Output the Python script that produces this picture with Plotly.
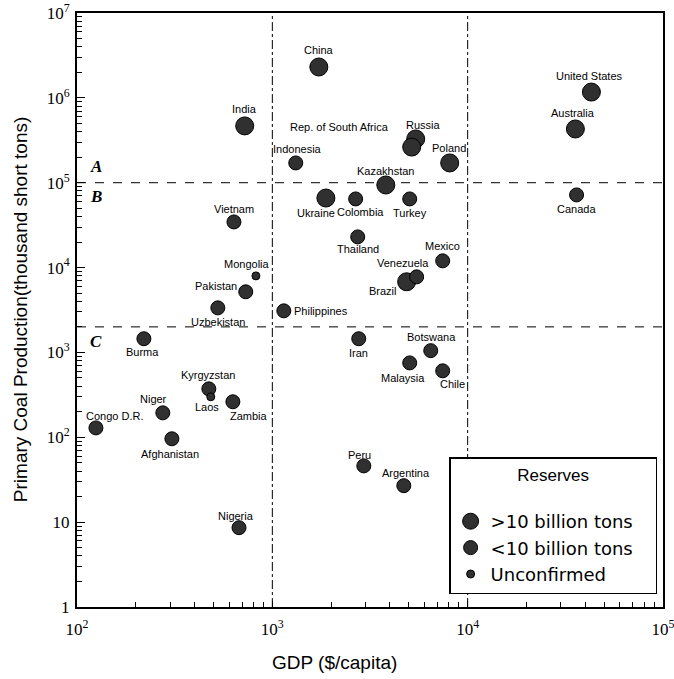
import math
import plotly.graph_objects as go

# ---- data ----
big_names = ["China", "India", "United States", "Australia", "Russia",
             "Rep. of South Africa", "Poland", "Kazakhstan", "Ukraine", "Brazil"]
big_gdp = [1730, 722, 43000, 35600, 5420, 5170, 8090, 3810, 1880, 4870]
big_prod = [2.31e6, 4.67e5, 1.17e6, 4.3e5, 3.28e5, 2.63e5, 1.71e5, 9.4e4, 6.6e4, 6.8e3]

mid_names = ["Indonesia", "Vietnam", "Pakistan", "Uzbekistan", "Philippines",
             "Colombia", "Turkey", "Canada", "Thailand", "Mexico", "Venezuela",
             "Burma", "Kyrgyzstan", "Zambia", "Niger", "Congo D.R.", "Afghanistan",
             "Nigeria", "Iran", "Botswana", "Malaysia", "Chile", "Peru", "Argentina"]
mid_gdp = [1318, 636, 731, 526, 1145,
           2670, 5050, 36100, 2736, 7450, 5480,
           220, 473, 628, 275, 125, 306,
           675, 2770, 6470, 5050, 7450, 2940, 4710]
mid_prod = [1.71e5, 3.45e4, 5.18e3, 3.35e3, 3.09e3,
            6.44e4, 6.44e4, 7.18e4, 2.3e4, 1.2e4, 7.77e3,
            1.45e3, 372, 262, 194, 129, 96,
            8.6, 1.45e3, 1.05e3, 753, 607, 46, 26.9]

unc_names = ["Mongolia", "Laos"]
unc_gdp = [824, 484]
unc_prod = [7.98e3, 300]

series_names = [">10 billion tons", "<10 billion tons", "Unconfirmed"]
legend_title = "Reserves"

x_tickvals = [1e2, 1e3, 1e4, 1e5]
x_ticktext = ["10<sup>2</sup>", "10<sup>3</sup>", "10<sup>4</sup>", "10<sup>5</sup>"]
y_tickvals = [1, 10, 1e2, 1e3, 1e4, 1e5, 1e6, 1e7]
y_ticktext = ["1", "10", "10<sup>2</sup>", "10<sup>3</sup>", "10<sup>4</sup>",
              "10<sup>5</sup>", "10<sup>6</sup>", "10<sup>7</sup>"]

gdp_bounds = [1e3, 1e4]
prod_bounds = [2e3, 1e5]
x_range = [1e2, 1e5]
y_range = [1, 1e7]

region_labels = ["A", "B", "C"]
region_x = [125, 125, 125]
region_y = [1.55e5, 6.8e4, 1.35e3]

x_title = "GDP ($/capita)"
y_title = "Primary Coal Production(thousand short tons)"

# ---- label placement (pixel offsets of each country label from its marker) ----
label_offset = {
    "China": (0, -17), "India": (0, -17), "Indonesia": (2, -14),
    "Rep. of South Africa": (-72, -20), "Russia": (8, -14), "Poland": (-1, -15),
    "Kazakhstan": (0, -14), "Ukraine": (-10, 15), "Colombia": (5, 13),
    "Turkey": (0, 14), "Canada": (0, 14), "United States": (-2, -16),
    "Australia": (-2, -16), "Thailand": (0, 12), "Mexico": (0, -15),
    "Venezuela": (-14, -14), "Brazil": (-24, 9), "Vietnam": (0, -13),
    "Mongolia": (-9, -12), "Pakistan": (-30, -6), "Uzbekistan": (0, 14),
    "Philippines": (37, 0), "Burma": (-1, 13), "Kyrgyzstan": (-1, -14),
    "Laos": (-4, 10), "Zambia": (16, 14), "Niger": (-9, -14),
    "Congo D.R.": (19, -12), "Afghanistan": (-2, 15), "Nigeria": (-3, -12),
    "Iran": (0, 14), "Botswana": (1, -14), "Malaysia": (-7, 15),
    "Chile": (10, 13), "Peru": (-4, -11), "Argentina": (2, -13),
}

fill = "#303030"
fig = go.Figure()

# boundary lines
for gx in gdp_bounds:
    fig.add_trace(go.Scatter(x=[gx, gx], y=y_range, mode="lines", showlegend=False,
                             hoverinfo="skip",
                             line=dict(color="black", width=1, dash="dashdot")))
for py in prod_bounds:
    fig.add_trace(go.Scatter(x=x_range, y=[py, py], mode="lines", showlegend=False,
                             hoverinfo="skip",
                             line=dict(color="black", width=1, dash="dash")))

groups = [(big_names, big_gdp, big_prod, 18),
          (mid_names, mid_gdp, mid_prod, 14),
          (unc_names, unc_gdp, unc_prod, 8)]
legend_names = [series_names[0] + "\u00a0\u00a0\u00a0", series_names[1], series_names[2]]

txtfont = dict(family="Liberation Sans", size=11, color="black")
for (names, gdp, prod, size), lname in zip(groups, legend_names):
    fig.add_trace(go.Scatter(x=gdp, y=prod, text=names, mode="markers", name=lname,
                             hovertemplate="%{text}<extra></extra>",
                             marker=dict(size=size, color=fill,
                                         line=dict(color="black", width=1))))
    for n, gx, py in zip(names, gdp, prod):
        dx, dy = label_offset[n]
        fig.add_annotation(x=math.log10(gx), y=math.log10(py), text=n, showarrow=False,
                           xanchor="center", yanchor="middle", xshift=dx, yshift=-dy,
                           font=txtfont)

for lab, rx, ry in zip(region_labels, region_x, region_y):
    fig.add_annotation(x=math.log10(rx), y=math.log10(ry), text="<b><i>%s</i></b>" % lab,
                       showarrow=False, xanchor="center", yanchor="middle",
                       font=dict(family="Liberation Serif", size=17, color="black"))

titlefont = dict(family="Liberation Sans", size=19, color="black")
fig.add_annotation(xref="paper", yref="paper", x=-0.097, y=0.5, text=y_title,
                   textangle=-90, showarrow=False, xanchor="center", yanchor="middle",
                   font=titlefont)
fig.add_annotation(xref="paper", yref="paper", x=0.44, y=-0.094, text=x_title,
                   showarrow=False, xanchor="center", yanchor="middle", font=titlefont)

minor_vals = [m * 10 ** k for k in range(0, 7) for m in range(2, 10)]

fig.update_xaxes(type="log", range=[2, 5], tickvals=x_tickvals, ticktext=x_ticktext,
                 ticks="inside", ticklen=6, tickwidth=1, tickcolor="black",
                 showline=True, linecolor="black", linewidth=2, mirror=True,
                 showgrid=False, zeroline=False, ticklabelstandoff=6, automargin=False,
                 ticklabeloverflow="allow",
                 tickfont=dict(family="Liberation Serif", size=17, color="black"),
                 minor=dict(tickvals=minor_vals, ticks="inside", ticklen=5, tickcolor="black", showgrid=False))
fig.update_yaxes(type="log", range=[0, 7], tickvals=y_tickvals, ticktext=y_ticktext,
                 ticks="inside", ticklen=8, tickwidth=1, tickcolor="black",
                 showline=True, linecolor="black", linewidth=2, mirror=True,
                 showgrid=False, zeroline=False, ticklabelstandoff=2, automargin=False,
                 ticklabeloverflow="allow",
                 tickfont=dict(family="Liberation Serif", size=17, color="black"),
                 minor=dict(tickvals=minor_vals, ticks="inside", ticklen=5, tickcolor="black", showgrid=False))

fig.update_layout(
    width=674, height=679,
    margin=dict(l=77, r=11, t=13, b=72, autoexpand=False),
    plot_bgcolor="white", paper_bgcolor="white",
    legend=dict(x=0.635, y=0.252, xanchor="left", yanchor="top",
                bgcolor="white", bordercolor="black", borderwidth=1.5,
                font=dict(family="DejaVu Sans", size=18, color="black"),
                title=dict(text=legend_title + "<br> ", side="top center",
                           font=dict(family="Liberation Sans", size=17, color="black")),
                itemsizing="trace", tracegroupgap=0),
)

fig.write_html("out.html", config={"displayModeBar": False},
               post_script="document.body.style.margin='0';")
